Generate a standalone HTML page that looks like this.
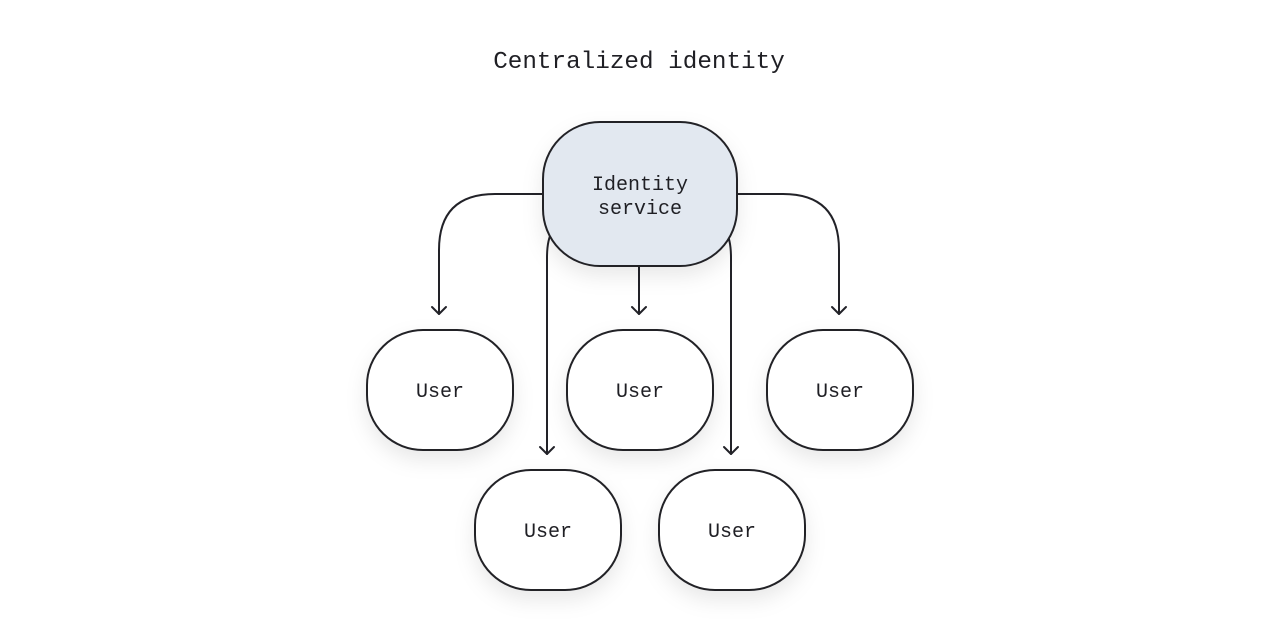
<!DOCTYPE html>
<html><head><meta charset="utf-8"><style>
html,body{margin:0;padding:0;background:#fff;}
svg{display:block;}
text{font-family:"Liberation Mono","DejaVu Sans Mono",monospace;fill:#1f1f24;}
</style></head><body>
<svg width="1280" height="638" viewBox="0 0 1280 638" xmlns="http://www.w3.org/2000/svg">
<defs>
<filter id="sh" x="-30%" y="-30%" width="160%" height="170%">
<feDropShadow dx="0" dy="9" stdDeviation="10" flood-color="#000" flood-opacity="0.09"/>
</filter>
</defs>
<rect width="1280" height="638" fill="#fff"/>
<text x="639" y="68" font-size="24.3" text-anchor="middle">Centralized identity</text>

<g fill="none" stroke="#222228" stroke-width="2" stroke-linecap="round" stroke-linejoin="round">
<path d="M543 194 H495 Q439 194 439 250 V314"/>
<path d="M432 307 L439 314 L446 307"/>
<path d="M737 194 H783 Q839 194 839 250 V314"/>
<path d="M832 307 L839 314 L846 307"/>
<path d="M639 266 V314"/>
<path d="M632 307 L639 314 L646 307"/>
<path d="M552 232 Q547 240 547 258 V454"/>
<path d="M540 447 L547 454 L554 447"/>
<path d="M726 232 Q731 240 731 258 V454"/>
<path d="M724 447 L731 454 L738 447"/>
</g>

<g stroke="#222228" stroke-width="2" filter="url(#sh)">
<rect x="543" y="122" width="194" height="144" rx="57" ry="57" fill="#e2e8f0"/>
<rect x="367" y="330" width="146" height="120" rx="56" ry="55" fill="#fff"/>
<rect x="567" y="330" width="146" height="120" rx="56" ry="55" fill="#fff"/>
<rect x="767" y="330" width="146" height="120" rx="56" ry="55" fill="#fff"/>
<rect x="475" y="470" width="146" height="120" rx="56" ry="55" fill="#fff"/>
<rect x="659" y="470" width="146" height="120" rx="56" ry="55" fill="#fff"/>
</g>

<g font-size="20" text-anchor="middle">
<text x="640" y="190">Identity</text>
<text x="640" y="214">service</text>
<text x="440" y="397">User</text>
<text x="640" y="397">User</text>
<text x="840" y="397">User</text>
<text x="548" y="537">User</text>
<text x="732" y="537">User</text>
</g>
</svg>
</body></html>
